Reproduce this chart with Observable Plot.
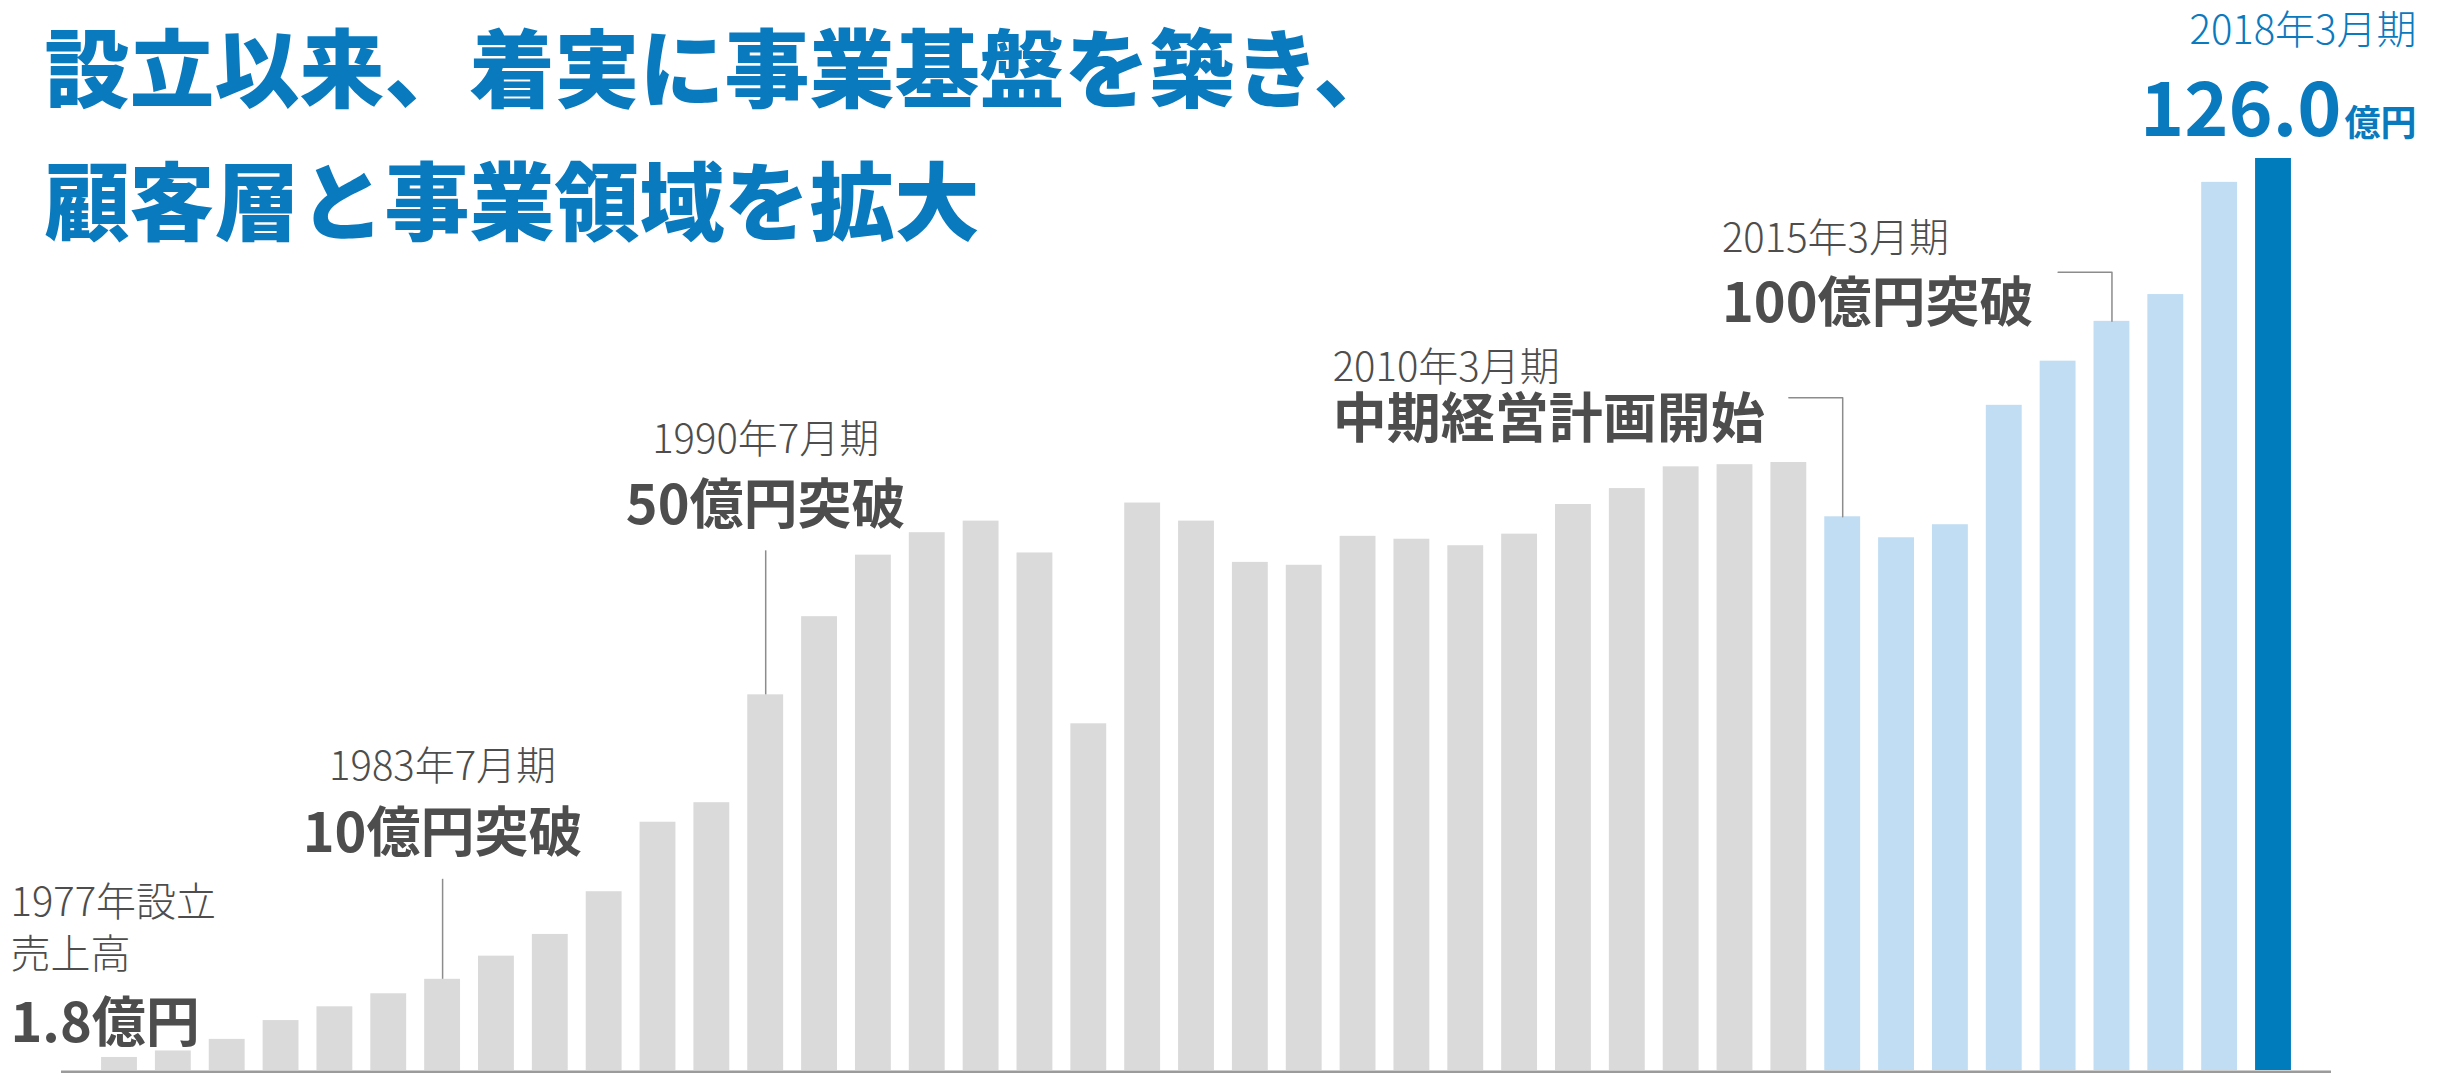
<!DOCTYPE html>
<html>
<head>
<meta charset="utf-8">
<script src="https://cdn.jsdelivr.net/npm/d3@7"></script>
<script src="https://cdn.jsdelivr.net/npm/@observablehq/plot@0.6"></script>
<style>
  html, body { margin: 0; padding: 0; background: #fff; overflow: hidden; }
</style>
</head>
<body>
<div id="chart"></div>
<script>
// ---------- data ----------
const periods = Array.from({length: 41}, (_, i) => `第${i + 1}期`);
const sales = [1.8, 2.7, 4.3, 6.9, 8.8, 10.6, 12.6, 15.8, 18.8, 24.7,
               34.3, 37.0, 51.9, 62.7, 71.2, 74.3, 75.9, 71.5, 47.9, 78.4,
               75.9, 70.2, 69.8, 73.8, 73.4, 72.5, 74.1, 78.2, 80.4, 83.4,
               83.7, 84.0, 76.5, 73.6, 75.4, 91.9, 98.0, 103.5, 107.2, 122.7,
               126.0];
const phaseNames = ["〜2009年", "中期経営計画", "2018年3月期"];
const phases = [...Array(32).fill(phaseNames[0]), ...Array(8).fill(phaseNames[1]), phaseNames[2]];
const phaseColors = ["#dadada", "#c0ddf3", "#007bbb"];

const titleLines = ["設立以来、着実に事業基盤を築き、", "顧客層と事業領域を拡大"];
const milestoneIndex = [0, 6, 12, 32, 37, 40];
const milestoneDates = ["1977年設立\n売上高", "1983年7月期", "1990年7月期", "2010年3月期", "2015年3月期", "2018年3月期"];
const milestoneHeads = ["1.8億円", "10億円突破", "50億円突破", "中期経営計画開始", "100億円突破", "126.0"];
const latestUnit = "億円";

// ---------- layout / style ----------
const W = 2443, H = 1073;
const Y_BOTTOM = 1070, Y_TOP = 158;
const yMax = d3.max(sales);
const pxToValue = px => px * yMax / (Y_BOTTOM - Y_TOP);
const INK = "#4d4d4d", BLUE = "#0a7abf", LEADER = "#8c8c8c";
const FONT = "'Noto Sans CJK JP', 'Noto Sans', sans-serif";

const layout = [
  {anchor: "start",  dx: -109, dateDy: -89,  headDy: -15, color: INK},
  {anchor: "middle", dx: 0,    dateDy: -199, headDy: -127, leader: 100, color: INK},
  {anchor: "middle", dx: 0,    dateDy: -242, headDy: -171, leader: 144, color: INK},
  {anchor: "start",  dx: -510, dateDy: -136, headDy: -79, elbow: 119, color: INK},
  {anchor: "start",  dx: -390, dateDy: -69,  headDy: 1,   elbow: 49, color: INK},
  {anchor: "end",    dx: 143,  dateDy: -115, headDy: -23, headDx: 68, headSize: 75, color: BLUE}
];

const rows = periods.map((p, i) => ({period: p, sales: sales[i], phase: phases[i]}));
const ms = milestoneIndex.map((i, k) => ({
  idx: i, period: periods[i], sales: sales[i],
  date: milestoneDates[k], head: milestoneHeads[k], ...layout[k]
}));

const elbowPts = ms.filter(d => d.elbow).flatMap(d => {
  const level = d.sales + pxToValue(d.elbow);
  return [
    {id: d.period, period: periods[d.idx - 1], y: level},
    {id: d.period, period: d.period, y: level},
    {id: d.period, period: d.period, y: d.sales}
  ];
});

const textBase = {fontFamily: FONT, lineAnchor: "bottom"};

const chart = Plot.plot({
  width: W,
  height: H,
  marginLeft: 61,
  marginRight: 112,
  marginTop: 0,
  marginBottom: H - Y_BOTTOM,
  style: {background: "#fff", fontFamily: FONT, overflow: "visible"},
  x: {domain: periods, type: "band", paddingInner: 0.334, paddingOuter: 0.744, axis: null},
  y: {domain: [0, yMax], range: [Y_BOTTOM, Y_TOP], axis: null},
  color: {domain: phaseNames, range: phaseColors},
  marks: [
    Plot.barY(rows, {x: "period", y: "sales", fill: "phase"}),
    Plot.ruleY([0], {stroke: "#9b9b9b", strokeWidth: 3, dy: 1.5}),
    Plot.ruleX(ms.filter(d => d.leader), {
      x: "period", y1: "sales", y2: d => d.sales + pxToValue(d.leader),
      stroke: LEADER, strokeWidth: 1.5
    }),
    Plot.line(elbowPts, {x: "period", y: "y", z: "id", stroke: LEADER, strokeWidth: 1.5}),
    ...ms.map(d => Plot.text([d], {
      ...textBase, x: "period", y: "sales", text: "date",
      textAnchor: d.anchor, dx: d.dx, dy: d.dateDy,
      fontSize: 40, fontWeight: 300, lineHeight: 1.3, fill: d.color
    })),
    ...ms.map(d => Plot.text([d], {
      ...textBase, x: "period", y: "sales", text: "head",
      textAnchor: d.anchor, dx: d.headDx ?? d.dx, dy: d.headDy,
      fontSize: d.headSize ?? 54, fontWeight: 700, fill: d.color
    })),
    Plot.text([ms[ms.length - 1]], {
      ...textBase, x: "period", y: "sales", text: () => latestUnit,
      textAnchor: "end", dx: 143, dy: -23, fontSize: 36, fontWeight: 700, fill: BLUE
    }),
    Plot.text([titleLines[0]], {
      ...textBase, frameAnchor: "top-left", text: d => d, textAnchor: "start",
      dx: -17, dy: 100, fontSize: 85, fontWeight: 900, fill: BLUE
    }),
    Plot.text([titleLines[1]], {
      ...textBase, frameAnchor: "top-left", text: d => d, textAnchor: "start",
      dx: -17, dy: 233, fontSize: 85, fontWeight: 900, fill: BLUE
    })
  ]
});

document.getElementById("chart").appendChild(chart);
</script>
</body>
</html>
